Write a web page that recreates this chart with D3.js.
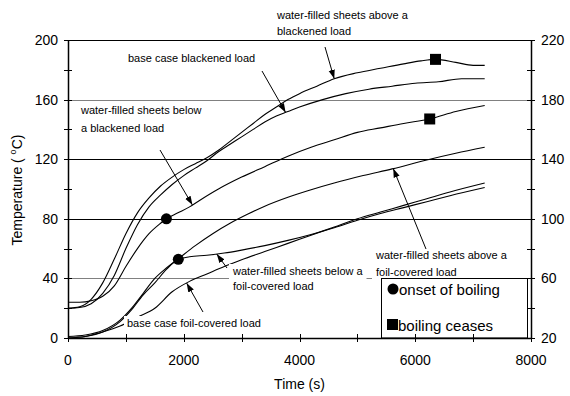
<!DOCTYPE html>
<html>
<head>
<meta charset="utf-8">
<script src="https://cdn.jsdelivr.net/npm/d3@7"></script>
<style>
  html, body { margin: 0; padding: 0; background: #fff; }
  svg { display: block; font-family: "Liberation Sans", Arial, sans-serif; }
</style>
</head>
<body>
<svg id="chart" width="570" height="396"></svg>
<script>
// Time axis (s) and temperature axes (°C)
const xTicks = [0, 2000, 4000, 6000, 8000];
const yTicksLeft = [0, 40, 80, 120, 160, 200];
const yTicksRight = [20, 60, 100, 140, 180, 220];

// Temperature histories: [time (s), temperature (°C)]
const aboveBlackened = [[0,20],[200,21],[400,26],[600,37],[800,53],[1000,70],[1200,84],[1400,94],[1600,102],[1800,108],[2000,113],[2200,117],[2400,121],[2600,126],[2800,132],[3000,138],[3200,144],[3400,150],[3600,155],[3800,160],[4000,164],[4300,169],[4600,174],[5000,178],[5400,181],[5800,184],[6100,186],[6350,187],[6700,185],[7000,183],[7200,183]];
const baseBlackened = [[0,20],[200,20.5],[400,23],[600,30],[800,42],[1000,60],[1200,76],[1400,88],[1600,96],[1800,103],[2000,109],[2200,114],[2400,119],[2600,125],[2800,130],[3000,135],[3200,140],[3400,145],[3600,149],[3800,152],[4000,155],[4400,160],[4800,164],[5200,167],[5600,169],[6000,171],[6400,172],[6800,174],[7200,174]];
const belowBlackened = [[0,24],[200,24],[400,25],[600,28],[800,35],[1000,48],[1200,60],[1400,70],[1600,77],[1700,80],[1900,84],[2100,88],[2300,93],[2600,100],[3000,108],[3400,115],[3800,122],[4200,128],[4600,133],[5000,138],[5400,141],[5800,144],[6250,147],[6700,152],[7200,156]];
const aboveFoil = [[0,1],[300,2],[600,5],[900,12],[1100,20],[1300,30],[1500,40],[1700,47],[1900,53],[2200,62],[2500,70],[2800,77],[3100,83],[3400,88.5],[3800,94.5],[4200,99.5],[4600,104],[5100,109],[5600,113.5],[6200,119.5],[6700,124],[7200,128]];
const belowFoil = [[0,0],[300,1],[600,4],[900,11],[1100,19],[1300,29],[1500,37],[1700,46],[1906,52.8],[2100,54.5],[2400,55.5],[2700,57],[3000,59],[3400,62],[3800,65.5],[4200,69.5],[4600,74],[5000,79],[5400,83.5],[5800,87.5],[6200,91.5],[6600,95.5],[7200,101]];
const baseFoil = [[0,0],[300,1],[600,4],[900,8],[1200,14],[1500,20],[1800,31],[2100,38],[2400,43],[2700,48],[3000,52.5],[3400,58],[3800,63.5],[4200,69],[4600,74.5],[5000,80],[5400,84.5],[5800,89],[6200,93.5],[6600,98],[7200,104]];

// Boiling events: [time (s), temperature (°C)]
const boilingOnset = [[1700, 80], [1906, 52.8]];
const boilingCeases = [[6350, 187], [6250, 147]];

const svg = d3.select("#chart");
const W = 570, H = 396;
const plot = { left: 68, right: 531, top: 40, bottom: 338 };

svg.append("rect").attr("width", W).attr("height", H).attr("fill", "#fff");

const x = d3.scaleLinear().domain([0, 8000]).range([plot.left, plot.right]);
const y = d3.scaleLinear().domain([0, 200]).range([plot.bottom, plot.top]);
const yR = d3.scaleLinear().domain([20, 220]).range([plot.bottom, plot.top]);

// arrowhead
svg.append("defs").append("marker")
  .attr("id", "arrow").attr("viewBox", "0 0 10 10")
  .attr("refX", 10).attr("refY", 5)
  .attr("markerWidth", 9).attr("markerHeight", 9)
  .attr("markerUnits", "userSpaceOnUse")
  .attr("orient", "auto")
  .append("path").attr("d", "M0,1.5 L10,5 L0,8.5 Z").attr("fill", "#000");

// horizontal gridlines
const gridVals = [40, 80, 120, 160];
const gridColor = v => (v === 40 || v === 160) ? "#808080" : "#000";
svg.append("g").selectAll("line").data(gridVals).join("line")
  .attr("x1", plot.left).attr("x2", plot.right)
  .attr("y1", d => Math.round(y(d)) + 0.5).attr("y2", d => Math.round(y(d)) + 0.5)
  .attr("stroke", gridColor).attr("stroke-width", 1);

// top frame line
svg.append("line")
  .attr("x1", plot.left).attr("x2", plot.right)
  .attr("y1", plot.top + 0.5).attr("y2", plot.top + 0.5)
  .attr("stroke", "#000").attr("stroke-width", 1.2);

// curves
const line = d3.line().x(d => x(d[0])).y(d => y(d[1])).curve(d3.curveMonotoneX);
const series = [aboveBlackened, baseBlackened, belowBlackened, aboveFoil, belowFoil, baseFoil];
svg.append("g").selectAll("path").data(series).join("path")
  .attr("d", line).attr("fill", "none").attr("stroke", "#000").attr("stroke-width", 1.1);

// annotation labels (white boxes behind)
const labelFont = 11;
function label(lines, lx, ly, lh) {
  const g = svg.append("g");
  const t = g.append("text").attr("font-size", labelFont).attr("fill", "#000");
  lines.forEach((s, i) => t.append("tspan").attr("x", lx).attr("y", ly + i * lh).text(s));
  const bb = t.node().getBBox();
  g.insert("rect", "text").attr("x", bb.x - 3).attr("y", bb.y - 1)
    .attr("width", bb.width + 6).attr("height", bb.height + 2).attr("fill", "#fff");
  return g;
}

// value of a series at a given time (linear between samples)
function at(s, t) {
  for (let i = 1; i < s.length; i++) {
    if (t <= s[i][0]) {
      const [t0, v0] = s[i - 1], [t1, v1] = s[i];
      return v0 + (v1 - v0) * (t - t0) / (t1 - t0);
    }
  }
  return s[s.length - 1][1];
}
function arrow(x1, y1, s, t) {
  svg.append("line").attr("x1", x1).attr("y1", y1)
    .attr("x2", x(t)).attr("y2", y(at(s, t)))
    .attr("stroke", "#000").attr("stroke-width", 1).attr("marker-end", "url(#arrow)");
}

label(["water-filled sheets above a", "blackened load"], 277, 19, 16);
label(["base case blackened load"], 128, 62, 16);
label(["water-filled sheets below", "a blackened load"], 81, 114, 18);
label(["water-filled sheets above a", "foil-covered load"], 376, 259, 17);
label(["water-filled sheets below a", "foil-covered load"], 233, 275, 15);
label(["base case foil-covered load"], 127, 327, 16);

arrow(325, 47, aboveBlackened, 4600);
arrow(262, 71, baseBlackened, 3760);
arrow(160, 150, belowBlackened, 2150);
arrow(426, 249, aboveFoil, 5620);
arrow(227, 268, belowFoil, 2570);
arrow(203, 312, baseFoil, 2050);

// boiling markers
svg.append("g").selectAll("circle").data(boilingOnset).join("circle")
  .attr("cx", d => x(d[0])).attr("cy", d => y(d[1])).attr("r", 5.5).attr("fill", "#000");
svg.append("g").selectAll("rect").data(boilingCeases).join("rect")
  .attr("x", d => x(d[0]) - 5.5).attr("y", d => y(d[1]) - 5.5)
  .attr("width", 11).attr("height", 11).attr("fill", "#000");

// legend
const lg = svg.append("g");
lg.append("rect").attr("x", 381.5).attr("y", 278.5).attr("width", 146).attr("height", 59.5)
  .attr("fill", "#fff").attr("stroke", "#000").attr("stroke-width", 1);
lg.append("circle").attr("cx", 393).attr("cy", 289).attr("r", 5.5).attr("fill", "#000");
lg.append("text").attr("x", 399).attr("y", 294.5).attr("font-size", 15).text("onset of boiling");
lg.append("rect").attr("x", 387).attr("y", 319).attr("width", 11).attr("height", 11).attr("fill", "#000");
lg.append("text").attr("x", 398).attr("y", 330.5).attr("font-size", 15).text("boiling ceases");

// axes
const tickLen = 4;
const axisG = svg.append("g").attr("stroke", "#000");
axisG.append("line").attr("x1", plot.left + 0.5).attr("x2", plot.left + 0.5)
  .attr("y1", plot.top).attr("y2", plot.bottom + 1).attr("stroke-width", 1.5);
axisG.append("line").attr("x1", plot.right + 0.5).attr("x2", plot.right + 0.5)
  .attr("y1", plot.top).attr("y2", plot.bottom + 1).attr("stroke-width", 1.5);
axisG.append("line").attr("x1", plot.left).attr("x2", plot.right + 1)
  .attr("y1", plot.bottom + 0.5).attr("y2", plot.bottom + 0.5).attr("stroke-width", 1.5);

const minorY = d3.range(0, 201, 20);
axisG.append("g").selectAll("line").data(minorY).join("line")
  .attr("x1", plot.left - tickLen).attr("x2", plot.left + tickLen)
  .attr("y1", d => Math.round(y(d)) + 0.5).attr("y2", d => Math.round(y(d)) + 0.5);
const minorYR = d3.range(20, 221, 20);
axisG.append("g").selectAll("line").data(minorYR).join("line")
  .attr("x1", plot.right - tickLen).attr("x2", plot.right + tickLen)
  .attr("y1", d => Math.round(yR(d)) + 0.5).attr("y2", d => Math.round(yR(d)) + 0.5);
const minorX = d3.range(0, 8001, 1000);
axisG.append("g").selectAll("line").data(minorX).join("line")
  .attr("x1", d => Math.round(x(d)) + 0.5).attr("x2", d => Math.round(x(d)) + 0.5)
  .attr("y1", plot.bottom - tickLen).attr("y2", plot.bottom + tickLen);

// tick labels
svg.append("g").selectAll("text").data(yTicksLeft).join("text")
  .attr("x", plot.left - 10).attr("y", d => y(d)).attr("dy", "0.35em")
  .attr("text-anchor", "end").attr("font-size", 14).text(d => d);
svg.append("g").selectAll("text").data(yTicksRight).join("text")
  .attr("x", plot.right + 10).attr("y", d => yR(d)).attr("dy", "0.35em")
  .attr("text-anchor", "start").attr("font-size", 14).text(d => d);
svg.append("g").selectAll("text").data(xTicks).join("text")
  .attr("x", d => x(d)).attr("y", plot.bottom + 22).attr("dy", "0.35em")
  .attr("text-anchor", "middle").attr("font-size", 14).text(d => d);

// axis titles
svg.append("text").attr("x", (plot.left + plot.right) / 2).attr("y", 384).attr("dy", "0.35em")
  .attr("text-anchor", "middle").attr("font-size", 14).text("Time (s)");
const yt = svg.append("text").attr("transform", "translate(22,190) rotate(-90)")
  .attr("text-anchor", "middle").attr("font-size", 14);
yt.append("tspan").text("Temperature ( ");
yt.append("tspan").attr("font-size", 9).attr("dy", -6).text("o");
yt.append("tspan").attr("dy", 6).text("C)");
</script>
</body>
</html>
